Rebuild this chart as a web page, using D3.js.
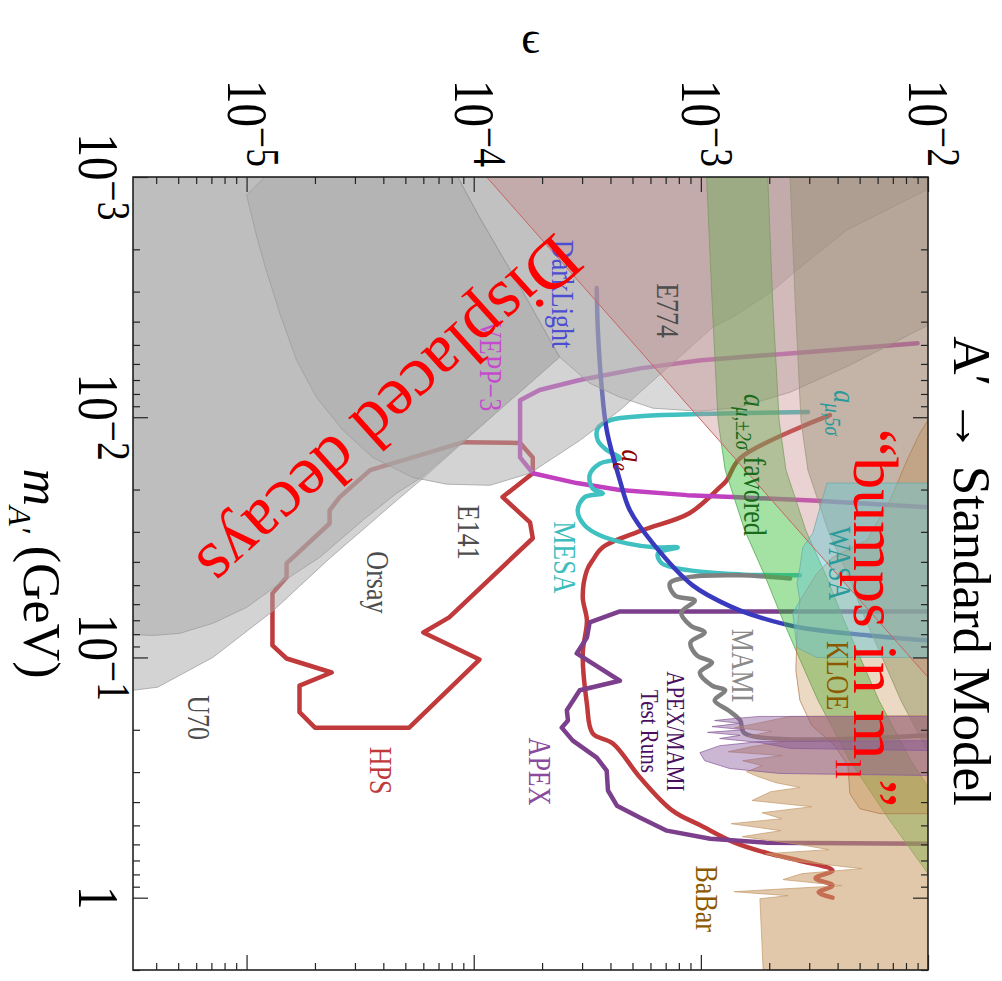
<!DOCTYPE html>
<html>
<head>
<meta charset="utf-8">
<title>A′ → Standard Model</title>
<script src="https://cdn.jsdelivr.net/npm/d3@7/dist/d3.min.js"></script>
<style>
  html, body { margin: 0; padding: 0; background: #fff; }
  svg { display: block; }
  text { font-family: "Liberation Serif", "Times New Roman", serif; }
</style>
</head>
<body>
<svg id="chart" width="1002" height="981"></svg>
<script>
// ---------- axes ----------
const massDomain = [1e-3, 2];                    // m_A' (GeV)
const epsDomain  = [Math.pow(10, -5.5), 1e-2];   // kinetic mixing
const massMajorTicks = [1e-3, 1e-2, 1e-1, 1];
const massTickLabels = [["10", "−3"], ["10", "−2"], ["10", "−1"], ["1", ""]];
const epsMajorTicks  = [1e-5, 1e-4, 1e-3, 1e-2];
const epsTickLabels  = [["10", "−5"], ["10", "−4"], ["10", "−3"], ["10", "−2"]];

// ---------- projected reach: [mass GeV, epsilon] ----------
const hpsDisplaced = [[0.0166,3.5e-5],[0.0127,9.0e-5],[0.0128,1.6e-4],[0.0147,1.82e-4],[0.0171,1.82e-4],
  [0.0215,1.34e-4],[0.0274,1.77e-4],[0.0319,1.82e-4],[0.0681,7.8e-5],[0.0787,6.0e-5],[0.102,1.06e-4],
  [0.196,5.2e-5],[0.196,2.0e-5],[0.169,1.71e-5],[0.131,1.71e-5],[0.1155,2.37e-5],[0.101,1.5e-5],
  [0.0891,1.3e-5],[0.0541,1.3e-5],[0.0464,1.5e-5],[0.0406,1.5e-5],[0.0277,2.32e-5],[0.0244,2.32e-5],
  [0.0215,2.57e-5]];
const hpsBump = [[0.0098,3.7e-3],[0.0148,1.49e-3],[0.0183,1.3e-3],[0.0196,1.21e-3],[0.0251,8.9e-4],
  [0.0296,5.5e-4],[0.0348,3.7e-4],[0.0394,3.34e-4],[0.0434,3.15e-4],[0.0562,3.02e-4],[0.0702,3.15e-4],
  [0.0962,3.02e-4],[0.156,3.15e-4],[0.207,3.34e-4],[0.228,4.1e-4],[0.316,5.4e-4],[0.434,7.5e-4],
  [0.501,1.0e-3],[0.59,1.41e-3],[0.656,2.0e-3],[0.70,2.7e-3],[0.77,3.8e-3],[0.83,3.2e-3],[0.89,3.8e-3],
  [0.95,3.3e-3],[1.0,3.8e-3]];
const apex = [[0.0643,1e-2],[0.0643,4.4e-4],[0.0714,3.24e-4],[0.0826,3.15e-4],[0.0962,2.84e-4],
  [0.125,4.4e-4],[0.137,2.93e-4],[0.166,2.57e-4],[0.183,2.6e-4],[0.196,2.44e-4],[0.222,2.73e-4],
  [0.261,3.48e-4],[0.296,3.85e-4],[0.358,3.9e-4],[0.414,4.27e-4],[0.464,5.38e-4],[0.526,7.08e-4],
  [0.568,1.1e-3],[0.59,1.95e-3],[0.596,1e-2]];
const darkLight = [[2.9e-3,3.48e-4],[4.34e-3,3.52e-4],[7.5e-3,3.66e-4],[0.0113,3.85e-4],[0.0183,4.4e-4],
  [0.0244,4.87e-4],[0.0335,6.15e-4],[0.0501,9.2e-4],[0.0619,1.38e-3],[0.0681,1.82e-3],[0.075,2.73e-3],
  [0.081,5.5e-3],[0.085,1e-2]];
const vepp3 = [[4.92e-3,9.0e-3],[5.41e-3,2.54e-3],[5.79e-3,1.0e-3],[6.26e-3,5.4e-4],[7.0e-3,2.93e-4],
  [7.7e-3,1.95e-4],[8.5e-3,1.6e-4],[0.0147,1.6e-4],[0.0171,1.82e-4],[0.0188,2.84e-4],[0.0201,4.4e-4],
  [0.0211,8.7e-4],[0.0215,1.38e-3],[0.0222,3.1e-3],[0.0237,1e-2]];
const mesa = [[9.5e-3,2.96e-3],[9.7e-3,9.9e-4],[9.9e-3,5.4e-4],[0.0103,3.97e-4],[0.0111,3.52e-4],
  [0.0125,3.52e-4],[0.0137,3.85e-4],[0.0148,4.4e-4],[0.0156,3.59e-4],[0.0174,3.24e-4],[0.0198,3.34e-4],
  [0.0207,3.7e-4],[0.0215,3.08e-4],[0.0244,2.87e-4],[0.0282,3.08e-4],[0.031,3.59e-4],[0.0335,4.72e-4],
  [0.0348,6.27e-4],[0.0348,7.9e-4],[0.0369,6.47e-4],[0.0406,6.73e-4],[0.0434,8.95e-4],[0.0451,1.49e-3],
  [0.0455,2.73e-3]];
const mami = [[0.0469,2.47e-3],[0.0455,1.49e-3],[0.0464,8.7e-4],[0.0492,7.3e-4],[0.0552,7.7e-4],
  [0.0579,9.4e-4],[0.065,8.2e-4],[0.0736,9.0e-4],[0.0787,1.04e-3],[0.0866,9.0e-4],[0.098,9.6e-4],
  [0.105,1.12e-3],[0.1155,9.9e-4],[0.131,1.12e-3],[0.137,1.28e-3],[0.151,1.15e-3],[0.166,1.32e-3],
  [0.183,1.49e-3],[0.207,1.56e-3],[0.211,1e-2]];

// ---------- excluded / favoured regions: [mass GeV, epsilon] ----------
const u70Orsay = [[1e-3,3.16e-6],[1e-3,8.5e-5],[1.47e-3,1.06e-4],[2.87e-3,1.6e-4],[5.62e-3,2.39e-4],
  [0.0101,1.18e-4],[0.018,5.96e-5],[0.0222,4.58e-5],[0.0387,2.32e-5],[0.0643,1.3e-5],[0.1,7.1e-6],
  [0.133,4.06e-6],[0.137,3.16e-6]];
const e137 = [[1e-3,3.16e-6],[1e-3,8.5e-5],[1.47e-3,1.06e-4],[2.87e-3,1.6e-4],[5.62e-3,2.39e-4],
  [0.0101,1.18e-4],[0.018,5.78e-5],[0.0207,4.58e-5],[0.0269,3.24e-5],[0.0383,2.1e-5],[0.0492,1.4e-5],
  [0.0619,1e-5],[0.0721,7.1e-6],[0.0794,5.07e-6],[0.081,3.85e-6],[0.0802,3.16e-6]];
const e141 = [[1e-3,1.2e-5],[1.19e-3,1e-5],[1.78e-3,1.11e-5],[2.44e-3,1.22e-5],[3.69e-3,1.4e-5],
  [5.79e-3,1.66e-5],[8.25e-3,2.03e-5],[0.0113,2.65e-5],[0.0147,3.59e-5],[0.0178,5.38e-5],[0.019,7.6e-5],
  [0.0192,1.18e-4],[0.0171,1.77e-4],[0.0125,2.93e-4],[9.35e-3,4.4e-4],[6.37e-3,6.94e-4],[4.22e-3,1.13e-3],
  [3.83e-3,1.38e-3],[3.04e-3,2.01e-3],[2.44e-3,2.65e-3],[1.66e-3,4.4e-3],[1.13e-3,9.9e-3],[1e-3,1e-2]];
const e774 = [[1e-3,8.5e-5],[1.47e-3,1.06e-4],[2.87e-3,1.6e-4],[5.62e-3,2.39e-4],[7.22e-3,3.24e-4],
  [8.25e-3,4.4e-4],[9.17e-3,6.15e-4],[9.44e-3,9.9e-4],[9.09e-3,1.49e-3],[7.87e-3,2.47e-3],
  [6.07e-3,4.53e-3],[4.14e-3,1e-2],[1e-3,1e-2]];
const aeExcluded = [[1e-3,1.14e-4],[0.121,1e-2],[1e-3,1e-2]];
const amu5sigma = [[1e-3,2.47e-3],[3.25e-3,2.6e-3],[0.0103,2.76e-3],[0.0166,2.96e-3],[0.0296,3.63e-3],
  [0.0455,4.44e-3],[0.0702,5.33e-3],[0.102,6.34e-3],[0.151,7.6e-3],[0.247,1e-2],[1e-3,1e-2]];
const amuLowEdge = [[1e-3,1.06e-3],[3.25e-3,1.12e-3],[0.0103,1.19e-3],[0.0166,1.28e-3],[0.0296,1.56e-3],
  [0.0455,1.91e-3],[0.0702,2.3e-3],[0.102,2.73e-3],[0.151,3.28e-3],[0.269,4.53e-3],[0.478,6.8e-3],
  [0.794,1e-2]];
const amuHighEdge = [[1e-3,1.97e-3],[3.25e-3,2.07e-3],[0.0103,2.21e-3],[0.0166,2.37e-3],[0.0296,2.9e-3],
  [0.0455,3.55e-3],[0.0702,4.27e-3],[0.102,5.07e-3],[0.151,6.08e-3],[0.269,8.42e-3],[0.345,1e-2]];
const wasa = [[0.0188,3.59e-3],[0.0188,1e-2],[0.1,1e-2],[0.1,3.24e-3],[0.0908,2.65e-3],[0.0656,2.54e-3],
  [0.0579,2.73e-3],[0.0492,2.65e-3],[0.0422,2.73e-3],[0.0348,2.81e-3],[0.0304,3.11e-3]];
const kloe = [[0.0103,1e-2],[0.01166,9.2e-3],[0.0151,8.08e-3],[0.0222,6.8e-3],[0.0325,5.38e-3],
  [0.0383,3.81e-3],[0.0447,3.24e-3],[0.0579,2.73e-3],[0.0794,2.65e-3],[0.113,2.62e-3],[0.151,2.73e-3],
  [0.192,3.08e-3],[0.233,3.89e-3],[0.282,4.44e-3],[0.369,4.53e-3],[0.426,5.01e-3],[0.447,6.15e-3],
  [0.447,1e-2]];
const babar = [[0.1745,1e-2],[0.176,2.47e-3],[0.187,1.82e-3],[0.196,1.41e-3],[0.203,2.05e-3],[0.213,1.61e-3],
  [0.224,2.34e-3],[0.235,1.68e-3],[0.247,1.32e-3],[0.256,2.27e-3],[0.269,1.53e-3],[0.282,1.86e-3],
  [0.299,1.59e-3],[0.313,1.78e-3],[0.332,2.14e-3],[0.348,2.73e-3],[0.362,2.03e-3],[0.394,1.68e-3],
  [0.418,3.08e-3],[0.443,1.86e-3],[0.469,2.27e-3],[0.492,1.36e-3],[0.526,2.25e-3],[0.557,1.52e-3],
  [0.601,2.73e-3],[0.631,3.66e-3],[0.656,1.93e-3],[0.702,2.52e-3],[0.757,5.12e-3],[0.794,2.79e-3],
  [0.841,2.3e-3],[0.891,4.18e-3],[0.944,1.40e-3],[0.981,2.42e-3],[1.01,1.82e-3],[2.0,1.88e-3],[2.0,1e-2]];
const apexTestRun = [[0.176,1e-2],[0.176,1.82e-3],[0.1795,1.41e-3],[0.183,1.15e-3],[0.188,1.49e-3],
  [0.194,1.12e-3],[0.2,1.56e-3],[0.205,1.07e-3],[0.211,1.49e-3],[0.2175,1.21e-3],[0.226,1.82e-3],
  [0.239,2.47e-3],[0.244,1e-2]];
const mamiTestRun = [[0.222,1e-2],[0.224,1.82e-3],[0.233,1.21e-3],[0.249,9.9e-4],[0.269,1.04e-3],
  [0.29,1.34e-3],[0.304,2.23e-3],[0.31,1e-2]];

// ---------- annotations anchored in [mass, epsilon] ----------
const labels = [
  { text: "E774",      m: 3.6e-3,  eps: 7.1e-4,  color: "#4d4d4d" },
  { text: "DarkLight", m: 3.07e-3, eps: 2.47e-4, color: "#4d4dd2" },
  { text: "VEPP−3",    m: 6.1e-3,  eps: 1.18e-4, color: "#c44ccc" },
  { text: "MESA",      m: 0.0383,  eps: 2.52e-4, color: "#3dbdbd" },
  { text: "E141",      m: 0.0301,  eps: 9.5e-5,  color: "#4d4d4d" },
  { text: "Orsay",     m: 0.0487,  eps: 3.78e-5, color: "#4d4d4d" },
  { text: "U70",       m: 0.178,   eps: 6.15e-6, color: "#4d4d4d" },
  { text: "HPS",       m: 0.296,   eps: 3.9e-5,  color: "#c0393b" },
  { text: "APEX",      m: 0.2985,  eps: 1.95e-4, color: "#8a4a9e" },
  { text: "MAMI",      m: 0.108,   eps: 1.52e-3, color: "#8a8a8a" },
  { text: "KLOE",      m: 0.119,   eps: 4.0e-3,  color: "#8b5a00" },
  { text: "WASA",      m: 0.0406,  eps: 4.09e-3, color: "#2a9a9a" },
  { text: "BaBar",     m: 1.01,    eps: 1.06e-3, color: "#8b5a00" },
  { text: "APEX/MAMI", m: 0.203,   eps: 7.7e-4,  color: "#4b0f5f", size: 21 },
  { text: "Test Runs", m: 0.203,   eps: 5.96e-4, color: "#4b0f5f", size: 21 }
];

// ---------- layout ----------
const frame = { left: 133, top: 177, right: 928, bottom: 970 };
const STRETCH = 1.22;   // glyphs in the plot body are drawn slightly tall

const xE = d3.scaleLog().domain(epsDomain).range([frame.left, frame.right]);
const yM = d3.scaleLog().domain(massDomain).range([frame.top, frame.bottom]);
const px = d => xE(d[1]);
const py = d => yM(d[0]);
const straight = d3.line().x(px).y(py);
const smooth = d3.line().x(px).y(py).curve(d3.curveCatmullRom.alpha(0.5));

const svg = d3.select("#chart");
svg.append("rect").attr("width", 1002).attr("height", 981).attr("fill", "#fff");
svg.append("clipPath").attr("id", "plotClip").append("rect")
  .attr("x", frame.left).attr("y", frame.top)
  .attr("width", frame.right - frame.left).attr("height", frame.bottom - frame.top);
const plot = svg.append("g").attr("clip-path", "url(#plotClip)");

function drawRegion(layer, r) {
  layer.append("path")
    .attr("d", straight(r.data) + "Z")
    .attr("fill", r.fill).attr("fill-opacity", r.op)
    .attr("stroke", r.stroke || "none").attr("stroke-width", 0.9).attr("stroke-opacity", 0.8);
}

// projected sensitivity curves (beneath the translucent regions)
const curves = [
  { data: hpsDisplaced, color: "#c0393b", closed: true,  gen: straight },
  { data: hpsBump,      color: "#c0393b", closed: false, gen: smooth },
  { data: apex,         color: "#7b3f8c", closed: false, gen: straight },
  { data: vepp3,        color: "#c040c0", closed: false, gen: straight },
  { data: mesa,         color: "#40c0c0", closed: false, gen: smooth },
  { data: mami,         color: "#808080", closed: false, gen: smooth },
  { data: darkLight,    color: "#3a3abf", closed: false, gen: smooth }
];
const curveLayer = plot.append("g").attr("fill", "none")
  .attr("stroke-linejoin", "round").attr("stroke-linecap", "round");
curves.forEach(c => {
  curveLayer.append("path")
    .attr("d", c.gen(c.data) + (c.closed ? "Z" : ""))
    .attr("stroke", c.color).attr("stroke-width", 4.5);
});

// beam dumps, then muon g-2, then electron g-2, then collider / fixed-target searches
const regionLayer = plot.append("g");
[
  { data: u70Orsay, fill: "#ababab", op: 0.52, stroke: "#9a9a9a" },
  { data: e137,     fill: "#ababab", op: 0.52, stroke: "#9a9a9a" },
  { data: e141,     fill: "#ababab", op: 0.52, stroke: "#9a9a9a" },
  { data: e774,     fill: "#ababab", op: 0.45, stroke: "#9a9a9a" },
  { data: amuLowEdge.concat(amuHighEdge.slice().reverse()), fill: "rgb(50,190,50)", op: 0.45, stroke: "#4aa04a" },
  { data: amu5sigma, fill: "rgb(110,140,90)", op: 0.42, stroke: "#7a9a6a" },
  { data: aeExcluded, fill: "rgb(200,138,138)", op: 0.38, stroke: null },
  { data: babar,    fill: "rgb(200,155,100)", op: 0.55, stroke: "#c49a6c" },
  { data: kloe,     fill: "rgb(190,130,60)", op: 0.3, stroke: "#b07a48" },
  { data: wasa,     fill: "rgb(110,200,210)", op: 0.5, stroke: "#6aa8a8" },
  { data: apexTestRun, fill: "rgb(130,80,150)", op: 0.42, stroke: "#8a5a9a" },
  { data: mamiTestRun, fill: "rgb(130,80,150)", op: 0.42, stroke: "#8a5a9a" }
].forEach(r => drawRegion(regionLayer, r));
regionLayer.append("path").attr("d", straight(aeExcluded.slice(0, 2)))
  .attr("stroke", "#c86464").attr("stroke-width", 1).attr("fill", "none");

// ---------- frame & ticks ----------
const isMajor = v => Math.abs(Math.log10(v) - Math.round(Math.log10(v))) < 1e-6;
const epsMinor = xE.ticks().filter(v => !isMajor(v));
const massMinor = yM.ticks().filter(v => !isMajor(v));

function ticks(axis, values, size, tx, ty) {
  svg.append("g").attr("transform", `translate(${tx},${ty})`).attr("color", "#222")
    .call(axis.tickValues(values).tickSize(size).tickFormat(""))
    .call(g => g.select(".domain").remove())
    .call(g => g.selectAll("line").attr("stroke-width", 1.2));
}
ticks(d3.axisTop(xE),    epsMajorTicks, -15, 0, frame.top);
ticks(d3.axisTop(xE),    epsMinor,       -7, 0, frame.top);
ticks(d3.axisBottom(xE), epsMajorTicks, -15, 0, frame.bottom);
ticks(d3.axisBottom(xE), epsMinor,       -7, 0, frame.bottom);
ticks(d3.axisLeft(yM),   massMajorTicks, -15, frame.left, 0);
ticks(d3.axisLeft(yM),   massMinor,       -7, frame.left, 0);
ticks(d3.axisRight(yM),  massMajorTicks, -15, frame.right, 0);
ticks(d3.axisRight(yM),  massMinor,       -7, frame.right, 0);

svg.append("rect").attr("x", frame.left).attr("y", frame.top)
  .attr("width", frame.right - frame.left).attr("height", frame.bottom - frame.top)
  .attr("fill", "none").attr("stroke", "#222").attr("stroke-width", 1.6);

// ---------- text helpers ----------
function richText(x, y, size, color, parts, o = {}) {
  const t = svg.append("text")
    .attr("transform", `translate(${x},${y}) scale(${o.stretch || 1},1) rotate(${o.angle == null ? 90 : o.angle})`)
    .attr("text-anchor", o.anchor || "middle")
    .attr("font-size", size).attr("fill", color)
    .attr("y", o.base == null ? size * 0.33 : o.base);
  let shift = 0;
  parts.forEach(p => {
    const target = p.sub ? size * 0.28 : p.sup ? -size * 0.33 : 0;
    const ts = t.append("tspan").text(p.t).attr("dy", target - shift);
    shift = target;
    if (p.sub || p.sup) ts.attr("font-size", size * (p.scale || 0.72));
    if (p.italic) ts.attr("font-style", "italic");
  });
  return t;
}

// tick labels
epsMajorTicks.forEach((v, i) => {
  const [b, e] = epsTickLabels[i];
  const parts = [{ t: b }];
  if (e) parts.push({ t: e, sup: true, scale: 0.8 });
  richText(xE(v), frame.top - 10, 47, "#000", parts, { stretch: STRETCH, anchor: "end" });
});
massMajorTicks.forEach((v, i) => {
  const [b, e] = massTickLabels[i];
  const parts = [{ t: b }];
  if (e) parts.push({ t: e, sup: true, scale: 0.8 });
  richText(frame.left - 35, yM(v), 47, "#000", parts, { stretch: STRETCH });
});

// axis titles and chart title
svg.append("text").attr("x", (frame.left + frame.right) / 2).attr("y", 37)
  .attr("text-anchor", "middle").attr("dominant-baseline", "central")
  .attr("font-size", 46).attr("font-family", "'DejaVu Serif', serif").text("ϵ");
richText(41, (frame.top + frame.bottom) / 2, 52, "#000",
  [{ t: "m", italic: true }, { t: "A′", sub: true, italic: true, scale: 0.62 }, { t: " (GeV)" }]);
richText(971, 571, 53, "#000", [{ t: "A′ → Standard Model" }]);

// region / experiment labels
labels.forEach(l => {
  richText(xE(l.eps), yM(l.m), l.size || 26, l.color, [{ t: l.text }], { stretch: STRETCH });
});
richText(xE(5.0e-4), yM(0.0151), 26, "#8b0000",
  [{ t: "a", italic: true }, { t: "e", sub: true, italic: true }], { stretch: STRETCH });
richText(xE(1.73e-3), yM(0.0158), 26, "#1a6b1a",
  [{ t: "a", italic: true }, { t: "μ,±2σ", sub: true, italic: true }, { t: " favored" }], { stretch: STRETCH });
richText(xE(4.3e-3), yM(9.6e-3), 26, "#2a9a9a",
  [{ t: "a", italic: true }, { t: "μ,5σ", sub: true, italic: true }], { stretch: STRETCH });

// search-strategy captions
richText(xE(5.84e-3), yM(0.0686), 64, "#ff0000",
  [{ t: "“bumps in m" }, { t: "ll", sub: true, scale: 0.55 }, { t: "”" }]);
richText(xE(4.27e-5), yM(9.5e-3), 70, "#ff0000",
  [{ t: "Displaced decays" }], { angle: 138 });
</script>
</body>
</html>
